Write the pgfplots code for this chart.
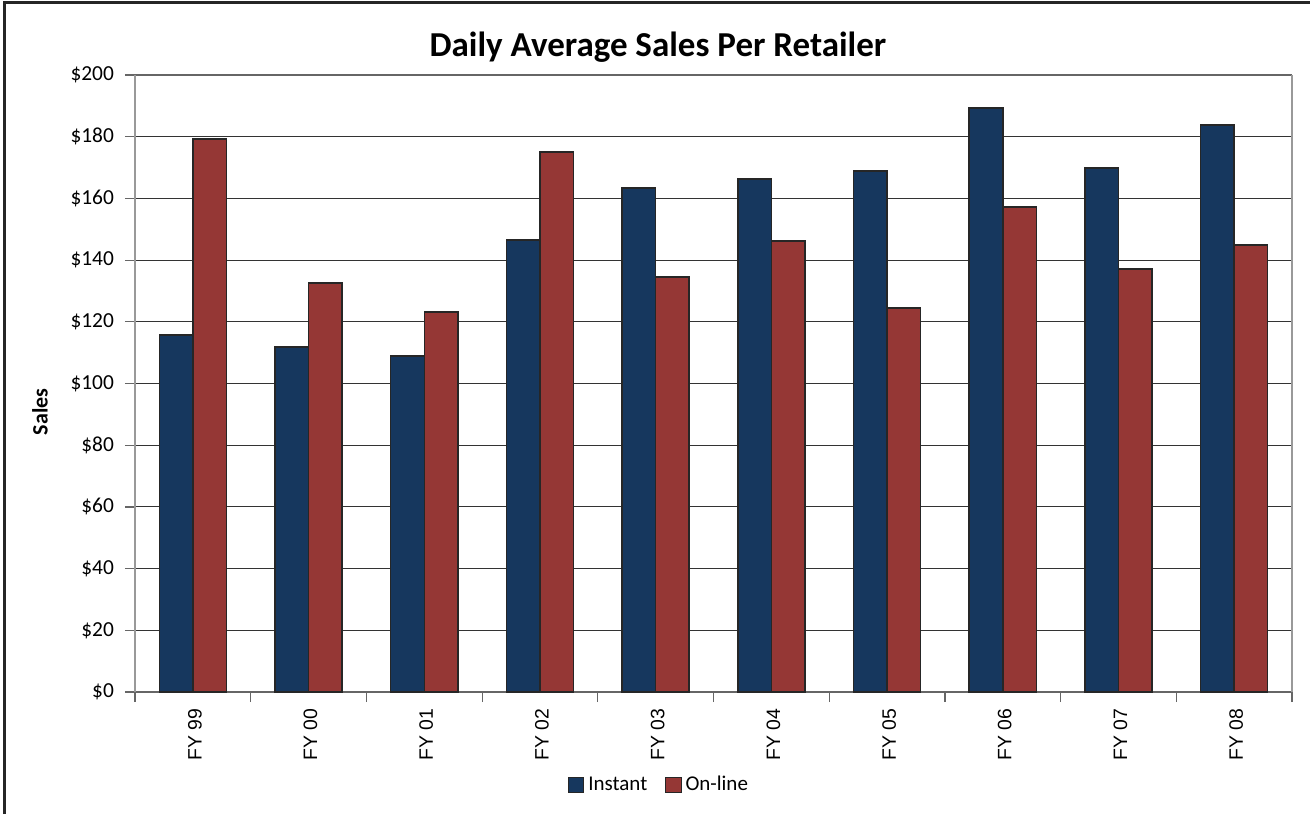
\documentclass[border=0pt]{standalone}
\usepackage{pgfplots}
\pgfplotsset{compat=1.18}
\usepackage{fontspec}
\setmainfont{Carlito}
\newfontfamily\arialfont{Liberation Sans}
\definecolor{instant}{RGB}{22,55,94}
\definecolor{online}{RGB}{149,55,53}

\begin{document}
\begin{tikzpicture}[x=1pt,y=1pt]
  % picture bounds: 1310x814 px at 0.5pt per px, axis corner at px (135,692)
  \useasboundingbox (-67.5,-61) rectangle (587.5,346);
  \draw[line width=1.5pt, black!85] (-65,-61) -- (-65,344.5) -- (587.5,344.5);
  \begin{axis}[
    at={(0,0)}, anchor=south west,
    scale only axis,
    width=578.5pt, height=308.5pt,
    ybar, bar width=0.29,
    xmin=-0.5, xmax=9.5,
    ymin=0, ymax=200,
    ytick={0,20,...,200},
    yticklabels={\$0,\$20,\$40,\$60,\$80,\$100,\$120,\$140,\$160,\$180,\$200},
    xtick={0,...,9},
    xticklabels={FY 99,FY 00,FY 01,FY 02,FY 03,FY 04,FY 05,FY 06,FY 07,FY 08},
    x tick label style={rotate=90, anchor=east, font=\arialfont\fontsize{9.7}{11}\selectfont, yshift=-1pt},
    y tick label style={font=\fontsize{10.7}{12}\selectfont, xshift=-2pt},
    major x tick style={draw=none},
    minor xtick={-0.5,0.5,...,9.5},
    minor x tick style={black!60, line width=0.6pt},
    y tick style={black!60, line width=0.6pt},
    tick align=outside,
    xtick pos=bottom, ytick pos=left,
    major tick length=5pt, minor tick length=5pt,
    ymajorgrids=true,
    grid style={black!80, line width=0.5pt},
    axis line style={black!40, line width=0.8pt},
    separate axis lines,
    x axis line style={black!60},
    ylabel={\textbf{Sales}},
    ylabel style={font=\fontsize{11}{13}\selectfont, at={(rel axis cs:-0.0821,0.4538)}, anchor=center},
    title={\textbf{Daily Average Sales Per Retailer}},
    title style={font=\fontsize{17.5}{20}\selectfont, at={(rel axis cs:0.452,1.026)}, anchor=center},
    legend style={draw=none, at={(rel axis cs:0.4538,-0.151)}, anchor=center, legend columns=2,
      font=\fontsize{10.5}{12}\selectfont, /tikz/every even column/.append style={column sep=7pt}},
    legend image code/.code={\draw[#1, line width=0.5pt] (0pt,-3.8pt) rectangle (7.6pt,3.8pt);},
    clip=false,
  ]
    \addplot[fill=instant, draw=black!85, line width=0.75pt, bar shift=-0.145] coordinates {
      (0,115.7) (1,111.8) (2,108.9) (3,146.5) (4,163.4)
      (5,166.3) (6,168.9) (7,189.3) (8,169.9) (9,183.8)
    };
    \addlegendentry{Instant}
    \addplot[fill=online, draw=black!85, line width=0.75pt, bar shift=0.145] coordinates {
      (0,179.3) (1,132.6) (2,123.2) (3,175.0) (4,134.5)
      (5,146.2) (6,124.5) (7,157.2) (8,137.1) (9,144.9)
    };
    \addlegendentry{On-line}
  \end{axis}
\end{tikzpicture}
\end{document}
